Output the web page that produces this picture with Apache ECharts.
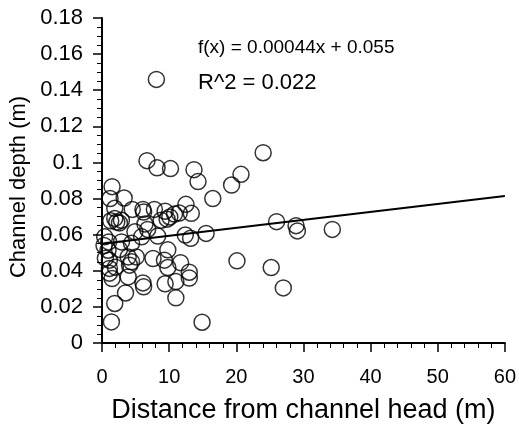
<!DOCTYPE html>
<html lang="en">
<head>
  <meta charset="UTF-8">
  <title>Channel depth</title>
  <script src="https://cdn.jsdelivr.net/npm/echarts@6/dist/echarts.min.js"></script>
  <style>
    html, body { margin: 0; padding: 0; background: #fff; }
    #main { width: 519px; height: 429px; }
  </style>
</head>
<body>
  <div id="main"></div>
  <script>
    // distance from channel head (m), channel depth (m)
    var distance = [
      8.1, 6.7, 8.2, 10.2, 13.7, 14.3, 24.0, 20.7, 19.3, 16.5,
      12.5, 13.3, 11.5, 26.0, 28.9, 29.1, 34.3, 15.5, 12.4, 13.2,
      20.1, 25.2, 27.0, 14.9, 11.0, 11.0, 13.0, 13.0, 11.7, 9.8,
      9.3, 9.8, 7.6, 9.4, 6.1, 6.2, 3.5, 1.9, 1.4, 1.5,
      1.2, 3.3, 1.9, 4.5, 6.1, 7.8, 6.2, 9.4, 10.1, 10.8,
      9.7, 1.9, 2.2, 2.6, 2.9, 1.3, 6.4, 4.9, 6.8, 5.9,
      8.3, 0.4, 1.0, 2.9, 4.4, 0.9, 2.6, 1.1, 3.9, 5.1,
      4.4, 4.1, 1.1, 1.5, 1.1, 3.9, 0.3, 0.5, 2.0, 8.8
    ];
    var depth = [
      0.146, 0.101, 0.097, 0.0966, 0.096, 0.0894, 0.1054, 0.0934, 0.0875, 0.080,
      0.0768, 0.0718, 0.072, 0.0672, 0.065, 0.0621, 0.0629, 0.0607, 0.0598, 0.058,
      0.0455, 0.0418, 0.0305, 0.0115, 0.025, 0.034, 0.036, 0.0392, 0.0445, 0.0418,
      0.0459, 0.0516, 0.0468, 0.0328, 0.0333, 0.0311, 0.0277, 0.0219, 0.0117, 0.0866,
      0.080, 0.0803, 0.0746, 0.074, 0.074, 0.074, 0.0725, 0.073, 0.0698, 0.0714,
      0.0686, 0.069, 0.067, 0.0665, 0.068, 0.0677, 0.0659, 0.0616, 0.0629, 0.0588,
      0.0592, 0.0588, 0.056, 0.056, 0.0552, 0.0514, 0.0518, 0.0459, 0.0477, 0.0477,
      0.045, 0.0431, 0.0413, 0.0357, 0.0387, 0.0366, 0.054, 0.047, 0.042, 0.068
    ];
    // fitted line end points
    var fitX = [0, 60];
    var fitY = [0.055, 0.0814];
    var fitText = 'f(x) = 0.00044x + 0.055';
    var r2Text = 'R^2 = 0.022';
    var xName = 'Distance from channel head (m)';
    var yName = 'Channel depth (m)';

    var points = [];
    for (var i = 0; i < distance.length; i++) {
      points.push([distance[i], depth[i]]);
    }
    var fitLine = [];
    for (var j = 0; j < fitX.length; j++) {
      fitLine.push([fitX[j], fitY[j]]);
    }

    var font = 'Liberation Sans, Arial, sans-serif';
    var myChart = echarts.init(document.getElementById('main'));
    var option = {
      animation: false,
      grid: { left: 102, right: 13, top: 18, bottom: 86 },
      xAxis: {
        type: 'value',
        min: 0, max: 60, interval: 10,
        name: xName,
        nameLocation: 'middle',
        nameGap: 54,
        nameTextStyle: { color: '#000', fontSize: 27, fontFamily: font },
        axisLine: { onZero: false, lineStyle: { color: '#000', width: 2 } },
        axisTick: { inside: false, length: 9, lineStyle: { color: '#000', width: 1.5 } },
        minorTick: { show: true, splitNumber: 5, length: 5, lineStyle: { color: '#000', width: 1 } },
        axisLabel: { color: '#000', fontSize: 20, fontFamily: font, margin: 24 },
        splitLine: { show: false }
      },
      yAxis: {
        type: 'value',
        min: 0, max: 0.18, interval: 0.02,
        axisLine: { onZero: false, lineStyle: { color: '#000', width: 2 } },
        axisTick: { inside: false, length: 9, lineStyle: { color: '#000', width: 1.5 } },
        minorTick: { show: true, splitNumber: 4, length: 5, lineStyle: { color: '#000', width: 1 } },
        axisLabel: {
          color: '#000', fontSize: 22, fontFamily: font, margin: 19,
          formatter: function (v) { return String(+v.toFixed(2)); }
        },
        splitLine: { show: false }
      },
      graphic: [
        {
          type: 'text', x: 19, y: 187, rotation: Math.PI / 2,
          style: { text: yName, fill: '#000', font: '22px ' + font, align: 'center', verticalAlign: 'middle' }
        },
        { type: 'text', left: 198, top: 38, style: { text: fitText, fill: '#000', font: '19px ' + font } },
        { type: 'text', left: 198, top: 72, style: { text: r2Text, fill: '#000', font: '22px ' + font } }
      ],
      series: [
        {
          type: 'scatter',
          data: points,
          symbol: 'circle',
          symbolSize: 16,
          itemStyle: { color: 'rgba(255,255,255,0)', borderColor: '#000', borderWidth: 1.5 }
        },
        {
          type: 'line',
          data: fitLine,
          showSymbol: false,
          lineStyle: { color: '#000', width: 2 }
        }
      ]
    };
    myChart.setOption(option);
  </script>
</body>
</html>
